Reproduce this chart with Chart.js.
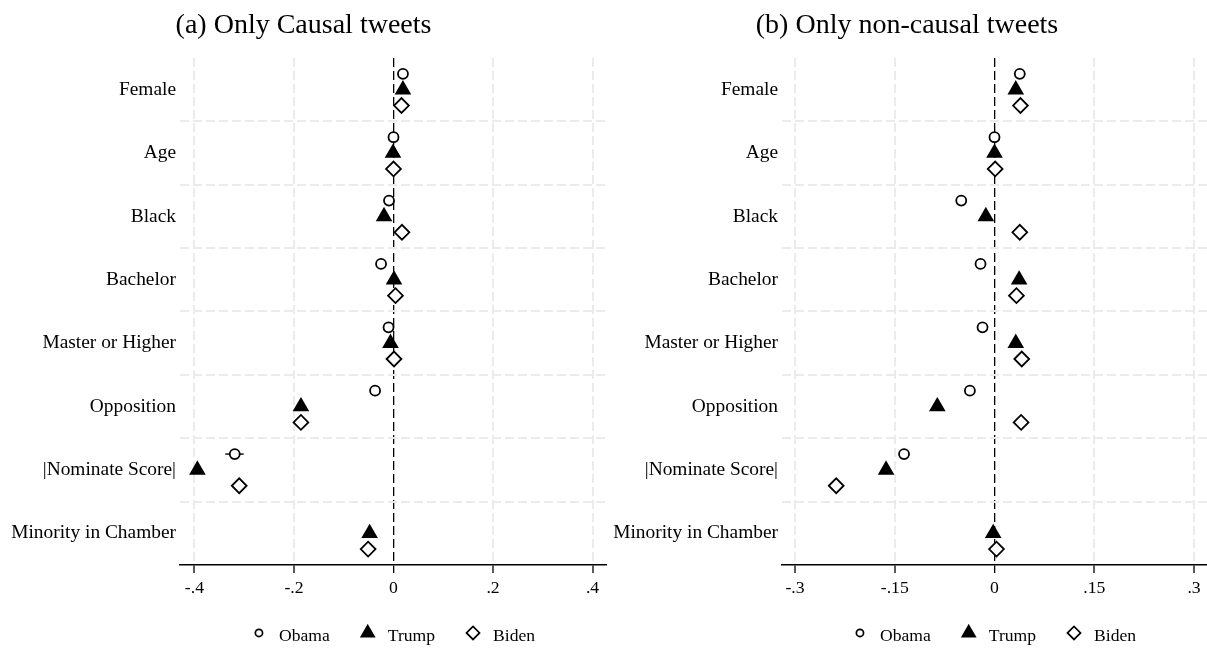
<!DOCTYPE html>
<html>
<head>
<meta charset="utf-8">
<script src="https://cdn.jsdelivr.net/npm/chart.js@4/dist/chart.umd.min.js"></script>
<style>
  html, body { margin: 0; padding: 0; background: #fff; }
  #wrap { position: relative; width: 1207px; height: 648px; }
  .panel { position: absolute; top: 0; height: 648px; }
  #panel-a { left: 0; width: 607px; }
  #panel-b { left: 607px; width: 600px; }
</style>
</head>
<body>
<div id="wrap">
  <div class="panel" id="panel-a"><canvas id="chart-a"></canvas></div>
  <div class="panel" id="panel-b"><canvas id="chart-b"></canvas></div>
</div>
<script>
const CATEGORIES = ['Female', 'Age', 'Black', 'Bachelor', 'Master or Higher',
                    'Opposition', '|Nominate Score|', 'Minority in Chamber'];
const SERIES = ['Obama', 'Trump', 'Biden'];

// (a) only causal tweets
const CAUSAL_OBAMA = [0.019, 0.000, -0.009, -0.025, -0.010, -0.037, -0.319, null];
const CAUSAL_TRUMP = [0.019, -0.001, -0.019, 0.001, -0.006, -0.186, -0.394, -0.048];
const CAUSAL_BIDEN = [0.016, 0.000, 0.017, 0.004, 0.001, -0.186, -0.310, -0.051];
const CAUSAL_OBAMA_NOMINATE_CI = [-0.338, -0.301];
const CAUSAL_TICKS = [-0.4, -0.2, 0, 0.2, 0.4];
const CAUSAL_TICK_LABELS = ['-.4', '-.2', '0', '.2', '.4'];

// (b) only non-causal tweets
const NONCAUSAL_OBAMA = [0.038, 0.000, -0.050, -0.021, -0.018, -0.037, -0.136, null];
const NONCAUSAL_TRUMP = [0.032, 0.000, -0.013, 0.037, 0.032, -0.086, -0.163, -0.002];
const NONCAUSAL_BIDEN = [0.039, 0.001, 0.038, 0.033, 0.041, 0.040, -0.238, 0.003];
const NONCAUSAL_TICKS = [-0.3, -0.15, 0, 0.15, 0.3];
const NONCAUSAL_TICK_LABELS = ['-.3', '-.15', '0', '.15', '.3'];

const SERIF = "'Liberation Serif', 'Times New Roman', serif";
const GRID_COLOR = '#ebebeb';
const DASH = [9, 4];

// marker look per series, offset = shift inside the category band
const MARKERS = [
  { style: 'circle',   radius: 5.0, legendRadius: 3.6, fill: '#fff', offset: -0.25 },
  { style: 'triangle', radius: 7.8, legendRadius: 7.4, fill: '#000', offset: 0 },
  { style: 'rectRot',  radius: 7.4, legendRadius: 6.5, fill: '#fff', offset: 0.25 },
];

function toPoints(values, offset) {
  return values
    .map((v, i) => v === null ? null : { x: v, y: i + offset })
    .filter(p => p !== null);
}

// legend drawn under the plot area, centred on it
const markerLegend = {
  id: 'markerLegend',
  afterDraw(chart) {
    const { ctx, chartArea } = chart;
    const items = chart.data.datasets.filter(d => d.legendRadius);
    ctx.save();
    ctx.font = `17.6px ${SERIF}`;
    const widths = items.map(d => ctx.measureText(d.label).width);
    const total = widths.reduce((s, w) => s + 27 + w, 0) + 31 * (items.length - 1);
    let x = (chartArea.left + chartArea.right) / 2 - total / 2;
    const y = chartArea.bottom + 68;
    items.forEach((d, i) => {
      ctx.fillStyle = d.pointBackgroundColor;
      ctx.strokeStyle = '#000';
      ctx.lineWidth = 1.7;
      Chart.helpers.drawPoint(ctx, { pointStyle: d.pointStyle, radius: d.legendRadius, borderWidth: 1.7 }, x + 7, y);
      ctx.fillStyle = '#000';
      ctx.textBaseline = 'middle';
      ctx.textAlign = 'left';
      ctx.fillText(d.label, x + 27, y + 3);
      x += 27 + widths[i] + 31;
    });
    ctx.restore();
  }
};

function buildChart(id, title, series, ci, ticks, tickLabels, range, axisWidth) {
  const datasets = series.map((vals, k) => ({
    label: SERIES[k],
    data: toPoints(vals, MARKERS[k].offset),
    pointStyle: MARKERS[k].style,
    pointRadius: MARKERS[k].radius,
    pointHoverRadius: MARKERS[k].radius,
    pointBackgroundColor: MARKERS[k].fill,
    pointBorderColor: '#000',
    pointBorderWidth: 1.8,
    legendRadius: MARKERS[k].legendRadius,
  }));
  if (ci) {
    const row = CATEGORIES.indexOf('|Nominate Score|') + MARKERS[0].offset;
    datasets.push({
      label: '',
      data: ci.map(v => ({ x: v, y: row })),
      showLine: true,
      borderColor: '#000',
      borderWidth: 1.4,
      pointRadius: 0,
    });
  }

  return new Chart(document.getElementById(id), {
    type: 'scatter',
    data: { datasets },
    plugins: [markerLegend],
    options: {
      responsive: true,
      maintainAspectRatio: false,
      animation: false,
      events: [],
      layout: { autoPadding: false, padding: { top: 0, right: 0, bottom: 43.8, left: 0 } },
      scales: {
        x: {
          type: 'linear',
          min: -range, max: range,
          afterBuildTicks: s => { s.ticks = ticks.map(v => ({ value: v })); },
          afterFit: s => { s.paddingLeft = 0; s.paddingRight = 0; },
          ticks: {
            callback: (v, i) => tickLabels[i],
            color: '#000',
            font: { family: SERIF, size: 17.7 },
            padding: 5,
            maxRotation: 0,
            autoSkip: false,
          },
          grid: {
            color: c => c.tick && c.tick.value === 0 ? '#000' : GRID_COLOR,
            lineWidth: c => c.tick && c.tick.value === 0 ? 1.3 : 2,
            tickColor: '#000',
            tickLength: 8,
            tickWidth: 1.3,
            tickBorderDash: [],
          },
          border: { display: true, color: '#000', width: 1.4, dash: DASH },
        },
        y: {
          type: 'linear',
          reverse: true,
          min: -0.5, max: CATEGORIES.length - 0.5,
          afterBuildTicks: s => {
            s.ticks = [];
            for (let v = -0.5; v <= CATEGORIES.length - 0.5; v += 0.5) s.ticks.push({ value: v });
          },
          afterFit: s => { s.width = axisWidth; },
          ticks: {
            callback: v => Number.isInteger(v) ? CATEGORIES[v] : '',
            autoSkip: false,
            padding: 4,
            color: '#000',
            font: { family: SERIF, size: 19.4 },
          },
          grid: {
            drawTicks: false,
            lineWidth: 2,
            color: c => {
              const v = c.tick ? c.tick.value : 0;
              return !Number.isInteger(v) && v > -0.5 && v < CATEGORIES.length - 0.5 ? GRID_COLOR : 'rgba(0,0,0,0)';
            },
          },
          border: { display: false, dash: DASH },
        },
      },
      plugins: {
        legend: { display: false },
        tooltip: { enabled: false },
        title: {
          display: true,
          text: title,
          color: '#000',
          font: { family: SERIF, size: 28, weight: 'normal' },
          padding: { top: 9.2, bottom: 15.2 },
        },
      },
    },
  });
}

buildChart('chart-a', '(a) Only Causal tweets',
  [CAUSAL_OBAMA, CAUSAL_TRUMP, CAUSAL_BIDEN], CAUSAL_OBAMA_NOMINATE_CI,
  CAUSAL_TICKS, CAUSAL_TICK_LABELS, 0.429, 180);

buildChart('chart-b', '(b) Only non-causal tweets',
  [NONCAUSAL_OBAMA, NONCAUSAL_TRUMP, NONCAUSAL_BIDEN], null,
  NONCAUSAL_TICKS, NONCAUSAL_TICK_LABELS, 0.3195, 175);
</script>
</body>
</html>
